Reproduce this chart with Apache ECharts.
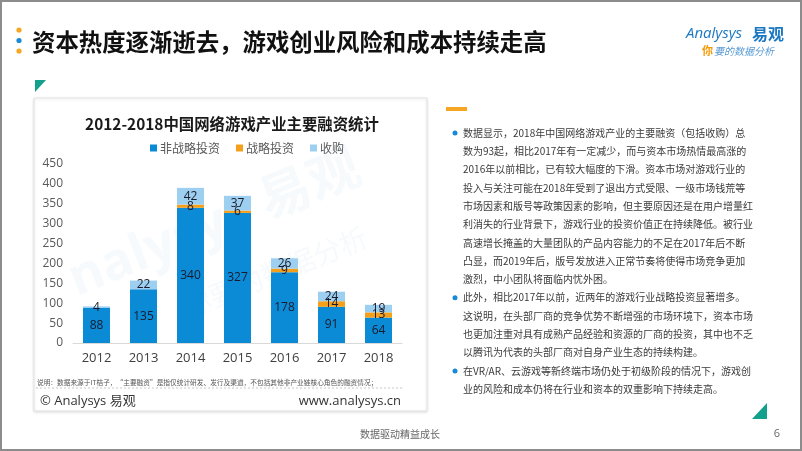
<!DOCTYPE html>
<html><head><meta charset="utf-8">
<script src="https://cdn.jsdelivr.net/npm/echarts@6/dist/echarts.min.js"></script>
<style>html,body{margin:0;padding:0;background:#fff}#c{width:802px;height:451px}</style>
</head><body><div id="c"></div>
<script>
var categories = ['2012','2013','2014','2015','2016','2017','2018'];
var nonStrategic = [88,135,340,327,178,91,64];
var strategic = [null,null,8,6,9,14,13];
var acquisition = [4,22,42,37,26,24,19];
var seriesNames = ['非战略投资','战略投资','收购'];
var yTicks = {min:0,max:450,interval:50};

var slideTitle = '资本热度逐渐逝去，游戏创业风险和成本持续走高';
var chartTitle = '2012-2018中国网络游戏产业主要融资统计';
var note = '说明：数据来源于IT桔子，“主要融资”是指仅统计研发、发行及渠道，不包括其他非产业链核心角色的融资情况；';
var paragraphs = [
 ['数据显示，2018年中国网络游戏产业的主要融资（包括收购）总','数为93起，相比2017年有一定减少，而与资本市场热情最高涨的','2016年以前相比，已有较大幅度的下滑。资本市场对游戏行业的','投入与关注可能在2018年受到了退出方式受限、一级市场钱荒等','市场因素和版号等政策因素的影响，但主要原因还是在用户增量红','利消失的行业背景下，游戏行业的投资价值正在持续降低。被行业','高速增长掩盖的大量团队的产品内容能力的不足在2017年后不断','凸显，而2019年后，版号发放进入正常节奏将使得市场竞争更加','激烈，中小团队将面临内忧外困。'],
 ['此外，相比2017年以前，近两年的游戏行业战略投资显著增多。','这说明，在头部厂商的竞争优势不断增强的市场环境下，资本市场','也更加注重对具有成熟产品经验和资源的厂商的投资，其中也不乏','以腾讯为代表的头部厂商对自身产业生态的持续构建。'],
 ['在VR/AR、云游戏等新终端市场仍处于初级阶段的情况下，游戏创','业的风险和成本仍将在行业和资本的双重影响下持续走高。']
];

var FONT = '"Noto Sans CJK SC", "Noto Sans", sans-serif';
var NUMF = '"Open Sans", "Noto Sans CJK SC", sans-serif';
var colors = ['#0b8ad6','#f5a01a','#9dd0f0'];

var g = [];
g.push({type:'rect',shape:{x:1,y:1,width:800,height:449},style:{fill:'none',stroke:'#8c8c8c',lineWidth:2},z:10});
[['#f5a623',30],['#1a8ad8',40.5],['#f5a623',51]].forEach(function(d){
  g.push({type:'circle',shape:{cx:19,cy:d[1],r:2.6},style:{fill:d[0]}});
});
g.push({type:'text',style:{x:32,y:42,text:slideTitle,font:'bold 23.4px '+FONT,fill:'#111',textVerticalAlign:'middle'}});
g.push({type:'text',style:{x:686,y:34,text:'Analysys',font:'italic 15px "Open Sans", sans-serif',fill:'#1b78c2',textVerticalAlign:'middle'}});
g.push({type:'text',style:{x:752,y:34,text:'易观',font:'bold 16px '+FONT,fill:'#1b78c2',textVerticalAlign:'middle'}});
g.push({type:'text',style:{x:702,y:51,text:'你',font:'bold 11px '+FONT,fill:'#f39800',textVerticalAlign:'middle'}});
g.push({type:'text',style:{x:714,y:51,text:'要的数据分析',font:'italic 10px '+FONT,fill:'#5a9bd4',textVerticalAlign:'middle'}});
g.push({type:'polygon',shape:{points:[[35,80],[46,80],[35,92]]},style:{fill:'#13a08c'}});
g.push({type:'polygon',shape:{points:[[767,403],[767,419],[752,419]]},style:{fill:'#13a08c'}});
g.push({type:'rect',shape:{x:446,y:107,width:21,height:4},style:{fill:'#f5a623'}});
g.push({type:'rect',shape:{x:34,y:98,width:393,height:313},style:{fill:'#fff',stroke:'#e3e3e3',lineWidth:1,shadowBlur:3,shadowColor:'rgba(0,0,0,0.12)',shadowOffsetY:1},z:-10});
g.push({type:'text',rotation:0.38,x:215,y:225,style:{x:0,y:0,text:'nalysys 易观',font:'bold 52px "Open Sans", "Noto Sans CJK SC", sans-serif',fill:'rgba(150,195,228,0.09)',textAlign:'center',textVerticalAlign:'middle'},z:-5});
g.push({type:'text',rotation:0.38,x:275,y:272,style:{x:0,y:0,text:'你要的数据分析',font:'28px '+FONT,fill:'rgba(150,195,228,0.09)',textAlign:'center',textVerticalAlign:'middle'},z:-5});
g.push({type:'text',style:{x:232,y:124,text:chartTitle,font:'bold 15.4px '+FONT,fill:'#1a1a1a',textAlign:'center',textVerticalAlign:'middle'}});
g.push({type:'text',style:{x:37,y:382,text:note,font:'6.7px '+FONT,fill:'#555',textVerticalAlign:'middle'}});
g.push({type:'line',shape:{x1:36,y1:388,x2:404,y2:388},style:{stroke:'#c8c8c8',lineWidth:1,lineDash:[2,2]}});
g.push({type:'text',style:{x:40,y:401,text:'© Analysys 易观',font:'13px '+NUMF,fill:'#333',textVerticalAlign:'middle'}});
g.push({type:'text',style:{x:401,y:401,text:'www.analysys.cn',font:'13px '+NUMF,fill:'#333',textAlign:'right',textVerticalAlign:'middle'}});
var lineIdx = 0;
paragraphs.forEach(function(p){
  g.push({type:'circle',shape:{cx:455,cy:133+lineIdx*18.3,r:2.5},style:{fill:'#1a8ad8'}});
  p.forEach(function(t){
    g.push({type:'text',style:{x:463,y:133+lineIdx*18.3,text:t,font:'10px '+FONT,fill:'#3a3a3a',textVerticalAlign:'middle'}});
    lineIdx++;
  });
});
g.push({type:'text',style:{x:400,y:434,text:'数据驱动精益成长',font:'10px '+FONT,fill:'#666',textAlign:'center',textVerticalAlign:'middle'}});
g.push({type:'text',style:{x:777,y:434,text:'6',font:'11px '+NUMF,fill:'#666',textAlign:'center',textVerticalAlign:'middle'}});

var lbl = {show:true,position:'inside',color:'#1a1a2a',fontSize:12,fontFamily:NUMF};
var chart = echarts.init(document.getElementById('c'));
chart.setOption({
  animation:false,
  color:colors,
  legend:{data:seriesNames,top:137,left:145,itemWidth:7,itemHeight:7,itemGap:16,icon:'rect',
    textStyle:{fontSize:12,color:'#595959',fontFamily:FONT,padding:[0,0,0,-2]}},
  grid:{left:73,right:400,top:164,bottom:108,containLabel:false},
  xAxis:{type:'category',data:categories,axisTick:{show:false},
    axisLine:{lineStyle:{color:'#d9d9d9'}},
    axisLabel:{color:'#404040',fontSize:13,fontFamily:NUMF,margin:9}},
  yAxis:{type:'value',min:yTicks.min,max:yTicks.max,interval:yTicks.interval,splitLine:{show:false},
    axisLine:{show:false},axisTick:{show:false},
    axisLabel:{color:'#595959',fontSize:12,fontFamily:NUMF,margin:10}},
  series:[
    {name:seriesNames[0],type:'bar',stack:'a',barWidth:27,data:nonStrategic,label:lbl},
    {name:seriesNames[1],type:'bar',stack:'a',barWidth:27,data:strategic,label:lbl},
    {name:seriesNames[2],type:'bar',stack:'a',barWidth:27,data:acquisition,label:lbl}
  ],
  graphic:{elements:g}
});
</script></body></html>
